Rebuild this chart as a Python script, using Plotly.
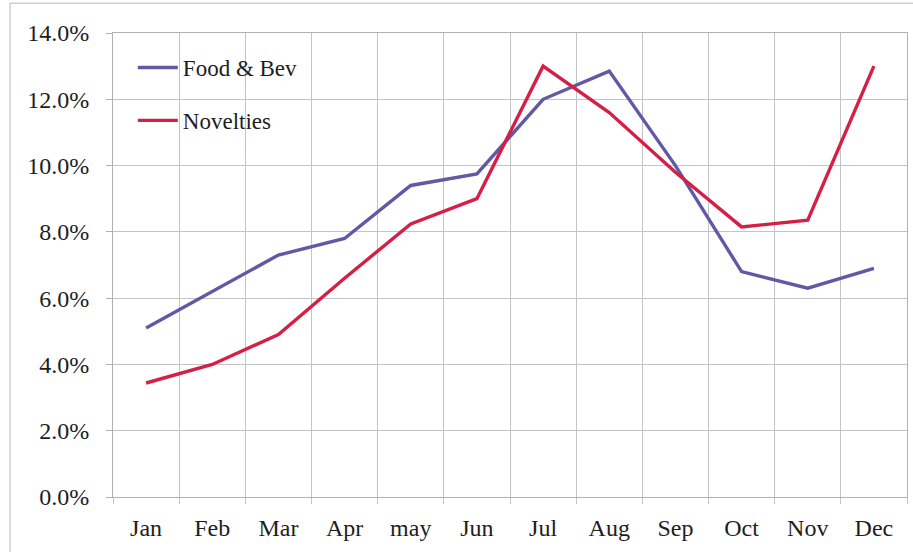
import plotly.graph_objects as go

months = ["Jan", "Feb", "Mar", "Apr", "may", "Jun", "Jul", "Aug", "Sep", "Oct", "Nov", "Dec"]
food_bev = [0.051, 0.062, 0.073, 0.078, 0.094, 0.0975, 0.120, 0.1285, 0.100, 0.068, 0.063, 0.069]
novelties = [0.0344, 0.040, 0.049, 0.066, 0.0824, 0.090, 0.130, 0.116, 0.098, 0.0815, 0.0835, 0.130]
y_ticks = [0, 0.02, 0.04, 0.06, 0.08, 0.10, 0.12, 0.14]

FONT = "Liberation Serif"
PURPLE = "#6457A4"
RED = "#D41F47"
TXT = "#1e1e1e"

fig = go.Figure()
fig.add_trace(go.Scatter(x=months, y=food_bev, mode="lines", name="Food & Bev",
                         line=dict(color=PURPLE, width=3.4), legendgroup="a"))
fig.add_trace(go.Scatter(x=months, y=novelties, mode="lines", name="Novelties",
                         line=dict(color=RED, width=3.4), legendgroup="b"))

fig.update_layout(
    width=913, height=552,
    margin=dict(l=113, r=6, t=33, b=55),
    paper_bgcolor="white", plot_bgcolor="white",
    font=dict(family=FONT, size=23, color=TXT),
    showlegend=True,
    legend=dict(x=0.025, y=0.972, xanchor="left", yanchor="top",
                bgcolor="rgba(255,255,255,0)", font=dict(family=FONT, size=23, color=TXT),
                tracegroupgap=20, itemwidth=40),
    xaxis=dict(type="category", range=[-0.5, 11.5], tickson="boundaries",
               showgrid=True, gridcolor="#c4c4c4", gridwidth=1,
               ticks="outside", ticklen=6, tickcolor="#c4c4c4",
               showline=True, linecolor="#b0b0b0", mirror=True,
               tickfont=dict(family=FONT, size=24, color=TXT), zeroline=False,
               ticklabelstandoff=9),
    yaxis=dict(range=[0, 0.14], tickvals=y_ticks, tickformat=".1%",
               showgrid=True, gridcolor="#c4c4c4", gridwidth=1,
               ticks="outside", ticklen=6, tickcolor="#b0b0b0",
               showline=True, linecolor="#b0b0b0", mirror=True,
               tickfont=dict(family=FONT, size=24, color=TXT),
               zeroline=False, ticklabelstandoff=12),
)

# outer chart border (partially visible in the scan)
fig.add_shape(type="rect", xref="paper", yref="paper",
              x0=-0.1297, x1=1.2, y0=-0.3, y1=1.064,
              line=dict(color="#cfcfcf", width=1.5), layer="below")

fig.write_html("out.html")
